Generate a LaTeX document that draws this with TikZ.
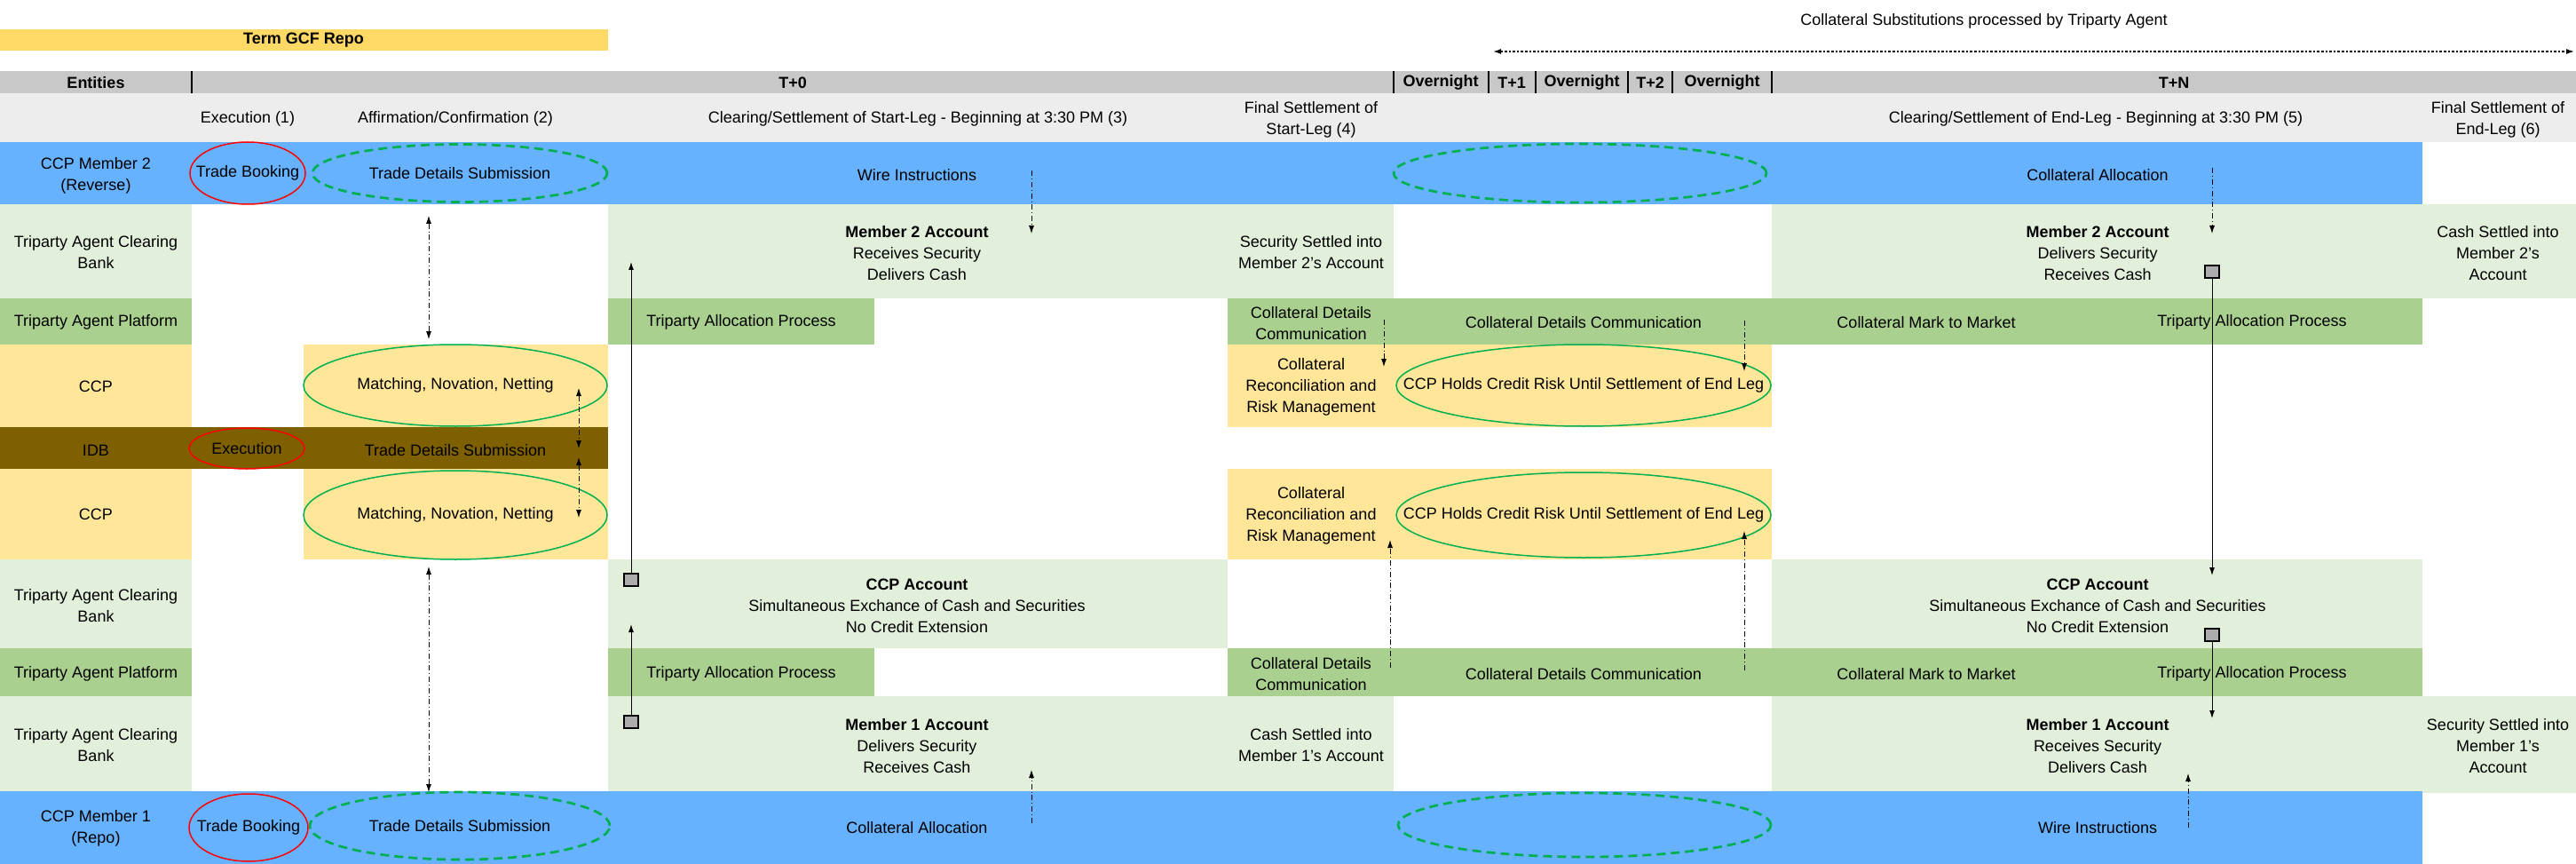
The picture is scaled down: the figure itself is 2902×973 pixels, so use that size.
\documentclass[tikz,border=0pt]{standalone}
\usepackage{fontspec}
\setmainfont{Liberation Sans}
\usetikzlibrary{shapes.geometric,arrows.meta}

\definecolor{hdrgray}{HTML}{C8C8C8}
\definecolor{subgray}{HTML}{EDEDED}
\definecolor{membblue}{HTML}{66B2FF}
\definecolor{bankgreen}{HTML}{E2EFDA}
\definecolor{platgreen}{HTML}{A9D08E}
\definecolor{ccpyellow}{HTML}{FFE699}
\definecolor{idbbrown}{HTML}{7F6000}
\definecolor{repoyellow}{HTML}{FFD966}
\definecolor{ringgreen}{HTML}{00B050}

\tikzset{
  txt/.style={align=center, inner sep=0pt},
  hdr/.style={txt, font=\fontsize{9}{12}\selectfont\bfseries},
  redring/.style={ellipse, draw=red, line width=0.75pt, inner sep=0pt},
  greenring/.style={ellipse, draw=ringgreen, line width=0.75pt, inner sep=0pt},
  dashring/.style={ellipse, draw=ringgreen, line width=1.35pt, dash pattern=on 5pt off 3pt, inner sep=0pt},
  flow/.style={line width=0.4pt, dash pattern=on 3pt off 1.5pt on 0.4pt off 1.5pt},
  move/.style={line width=0.5pt},
  sqbox/.style={draw, fill=gray!65, line width=0.6pt, minimum width=8pt, minimum height=7pt, inner sep=0pt},
}

\begin{document}
\begin{tikzpicture}[x=0.5pt, y=-0.5pt, >={Latex[length=4.5pt,width=3pt]},
    every node/.style={font=\fontsize{9}{12}\selectfont}]
	\useasboundingbox (0,0) rectangle (2902,973);

	% title and header
	\fill [repoyellow] (0,33) rectangle (685,57);
	\node [hdr] (0) at (342,45) {Term GCF Repo};
	\node [txt] (1) at (2235,24) {Collateral Substitutions processed by Triparty Agent};
	\node (2) at (1682,58) {};
	\node (3) at (2900,58) {};
	\fill [hdrgray] (0,80) rectangle (2902,105);
	\foreach \x in {216,1570,1677,1730,1834,1884,1996}
		\draw [line width=0.6pt] (\x,80) -- (\x,105);
	\node [hdr] (4) at (108,93) {Entities};
	\node [hdr] (5) at (893,93) {T+0};
	\node [hdr] (6) at (1623,93) {Overnight};
	\node [hdr] (7) at (1703,93) {T+1};
	\node [hdr] (8) at (1782,93) {Overnight};
	\node [hdr] (9) at (1859,93) {T+2};
	\node [hdr] (10) at (1940,93) {Overnight};
	\node [hdr] (11) at (2449,93) {T+N};
	\fill [subgray] (0,105) rectangle (2902,160);
	\node [txt] (12) at (279,134) {Execution (1)};
	\node [txt] (13) at (513,134) {Affirmation/Confirmation (2)};
	\node [txt] (14) at (1034,134) {Clearing/Settlement of Start-Leg - Beginning at 3:30 PM (3)};
	\node [txt] (15) at (1477,134.5) {Final Settlement of\\Start-Leg (4)};
	\node [txt] (16) at (2361,134) {Clearing/Settlement of End-Leg - Beginning at 3:30 PM (5)};
	\node [txt] (17) at (2814,134.5) {Final Settlement of\\End-Leg (6)};

	% rows
	\fill [membblue] (0,160) rectangle (2729,230);
	\fill [bankgreen] (0,230) rectangle (216,336);
	\fill [bankgreen] (685,230) rectangle (1570,336);
	\fill [bankgreen] (1996,230) rectangle (2902,336);
	\fill [platgreen] (0,336) rectangle (216,388);
	\fill [platgreen] (685,336) rectangle (985,388);
	\fill [platgreen] (1383,336) rectangle (2729,388);
	\fill [ccpyellow] (0,388) rectangle (216,481);
	\fill [ccpyellow] (342,388) rectangle (685,481);
	\fill [ccpyellow] (1383,388) rectangle (1996,481);
	\fill [idbbrown] (0,481) rectangle (685,528);
	\fill [ccpyellow] (0,528) rectangle (216,630);
	\fill [ccpyellow] (342,528) rectangle (685,630);
	\fill [ccpyellow] (1383,528) rectangle (1996,630);
	\fill [bankgreen] (0,630) rectangle (216,730);
	\fill [bankgreen] (685,630) rectangle (1383,730);
	\fill [bankgreen] (1996,630) rectangle (2729,730);
	\fill [platgreen] (0,730) rectangle (216,784);
	\fill [platgreen] (685,730) rectangle (985,784);
	\fill [platgreen] (1383,730) rectangle (2729,784);
	\fill [bankgreen] (0,784) rectangle (216,891);
	\fill [bankgreen] (685,784) rectangle (1570,891);
	\fill [bankgreen] (1996,784) rectangle (2902,893);
	\fill [membblue] (0,891) rectangle (2729,973);

	% entities
	\node [txt] (20) at (108,197.5) {CCP Member 2\\(Reverse)};
	\node [txt] (21) at (108,284.5) {Triparty Agent Clearing\\Bank};
	\node [txt] (22) at (108,363) {Triparty Agent Platform};
	\node [txt] (23) at (108,435) {CCP};
	\node [txt] (24) at (108,507) {IDB};
	\node [txt] (25) at (108,579) {CCP};
	\node [txt] (26) at (108,682.5) {Triparty Agent Clearing\\Bank};
	\node [txt] (27) at (108,759) {Triparty Agent Platform};
	\node [txt] (28) at (108,839) {Triparty Agent Clearing\\Bank};
	\node [txt] (29) at (108,933) {CCP Member 1\\(Repo)};

	% cells
	\node [txt] (30) at (1033,197) {Wire Instructions};
	\node [txt] (31) at (2363,197) {Collateral Allocation};
	\node [txt] (32) at (1033,285) {\textbf{Member 2 Account}\\Receives Security\\Delivers Cash};
	\node [txt] (33) at (1477,284.5) {Security Settled into\\Member 2's Account};
	\node [txt] (34) at (2363,285) {\textbf{Member 2 Account}\\Delivers Security\\Receives Cash};
	\node [txt] (35) at (2814,285) {Cash Settled into\\Member 2's\\Account};
	\node [txt] (36) at (835,363) {Triparty Allocation Process};
	\node [txt] (37) at (1477,364) {Collateral Details\\Communication};
	\node [txt] (38) at (1784,363) {Collateral Details Communication};
	\node [txt] (39) at (2170,363) {Collateral Mark to Market};
	\node [txt] (40) at (2537,363) {Triparty Allocation Process};
	\node [txt] (41) at (1477,436) {Collateral\\Reconciliation and\\Risk Management};
	\node [txt] (42) at (513,507) {Trade Details Submission};
	\node [txt] (43) at (1477,581) {Collateral\\Reconciliation and\\Risk Management};
	\node [txt] (44) at (1033,682) {\textbf{CCP Account}\\Simultaneous Exchance of Cash and Securities\\No Credit Extension};
	\node [txt] (45) at (2363,682) {\textbf{CCP Account}\\Simultaneous Exchance of Cash and Securities\\No Credit Extension};
	\node [txt] (46) at (835,759) {Triparty Allocation Process};
	\node [txt] (47) at (1477,759.5) {Collateral Details\\Communication};
	\node [txt] (48) at (1784,759) {Collateral Details Communication};
	\node [txt] (49) at (2170,759) {Collateral Mark to Market};
	\node [txt] (50) at (2537,759) {Triparty Allocation Process};
	\node [txt] (51) at (1033,840) {\textbf{Member 1 Account}\\Delivers Security\\Receives Cash};
	\node [txt] (52) at (1477,839.5) {Cash Settled into\\Member 1's Account};
	\node [txt] (53) at (2363,840) {\textbf{Member 1 Account}\\Receives Security\\Delivers Cash};
	\node [txt] (54) at (2814,840) {Security Settled into\\Member 1's\\Account};
	\node [txt] (55) at (1033,932) {Collateral Allocation};
	\node [txt] (56) at (2363,932) {Wire Instructions};

	% rings
	\node [redring, minimum width=65pt, minimum height=35pt, label=center:{Trade Booking}] (60) at (279,195) {};
	\node [dashring, minimum width=166pt, minimum height=32.5pt, label=center:{Trade Details Submission}] (61) at (518,195) {};
	\node [dashring, minimum width=210pt, minimum height=33pt] (62) at (1780,195) {};
	\node [greenring, minimum width=171pt, minimum height=46pt, label=center:{Matching, Novation, Netting}] (63) at (513,434) {};
	\node [greenring, minimum width=211pt, minimum height=46pt, label=center:{CCP Holds Credit Risk Until Settlement of End Leg}] (64) at (1784,434) {};
	\node [redring, minimum width=65pt, minimum height=23pt, label=center:{Execution}] (65) at (278,505) {};
	\node [greenring, minimum width=171pt, minimum height=50pt, label=center:{Matching, Novation, Netting}] (66) at (513,580) {};
	\node [greenring, minimum width=211pt, minimum height=48pt, label=center:{CCP Holds Credit Risk Until Settlement of End Leg}] (67) at (1784,580) {};
	\node [redring, minimum width=67pt, minimum height=38pt, label=center:{Trade Booking}] (68) at (280,932) {};
	\node [dashring, minimum width=169pt, minimum height=38pt, label=center:{Trade Details Submission}] (69) at (518,930) {};
	\node [dashring, minimum width=210pt, minimum height=36pt] (70) at (1785,929) {};

	% settlement boxes
	\node [sqbox] (80) at (711,653) {};
	\node [sqbox] (81) at (711,813) {};
	\node [sqbox] (82) at (2492,306) {};
	\node [sqbox] (83) at (2492,715) {};
	\node (84) at (711,295) {};
	\node (85) at (711,703) {};
	\node (86) at (2492,648) {};
	\node (87) at (2492,809) {};

	% message ends
	\node (90) at (483,243) {};
	\node (91) at (483,382) {};
	\node (92) at (1162,192) {};
	\node (93) at (1162,263) {};
	\node (94) at (2492,189) {};
	\node (95) at (2492,263) {};
	\node (96) at (1559,360) {};
	\node (97) at (1559,413) {};
	\node (98) at (1965,361) {};
	\node (99) at (1965,418) {};
	\node (100) at (652,437) {};
	\node (101) at (652,505) {};
	\node (102) at (652,515) {};
	\node (103) at (652,583) {};
	\node (104) at (1566,752) {};
	\node (105) at (1566,608) {};
	\node (106) at (1965,755) {};
	\node (107) at (1965,598) {};
	\node (108) at (483,638) {};
	\node (109) at (483,892) {};
	\node (110) at (1162,927) {};
	\node (111) at (1162,867) {};
	\node (112) at (2465,932) {};
	\node (113) at (2465,871) {};

	% edges
	\draw [<->, line width=0.7pt, dash pattern=on 1.3pt off 1pt] (2.center) to (3.center);
	\draw [move, ->] (80) to (84.center);
	\draw [move, ->] (81) to (85.center);
	\draw [move, ->] (82) to (86.center);
	\draw [move, ->] (83) to (87.center);
	\draw [flow, <->] (90.center) to (91.center);
	\draw [flow, ->] (92.center) to (93.center);
	\draw [flow, ->] (94.center) to (95.center);
	\draw [flow, ->] (96.center) to (97.center);
	\draw [flow, ->] (98.center) to (99.center);
	\draw [flow, <->] (100.center) to (101.center);
	\draw [flow, <->] (102.center) to (103.center);
	\draw [flow, ->] (104.center) to (105.center);
	\draw [flow, ->] (106.center) to (107.center);
	\draw [flow, <->] (108.center) to (109.center);
	\draw [flow, ->] (110.center) to (111.center);
	\draw [flow, ->] (112.center) to (113.center);
\end{tikzpicture}
\end{document}
